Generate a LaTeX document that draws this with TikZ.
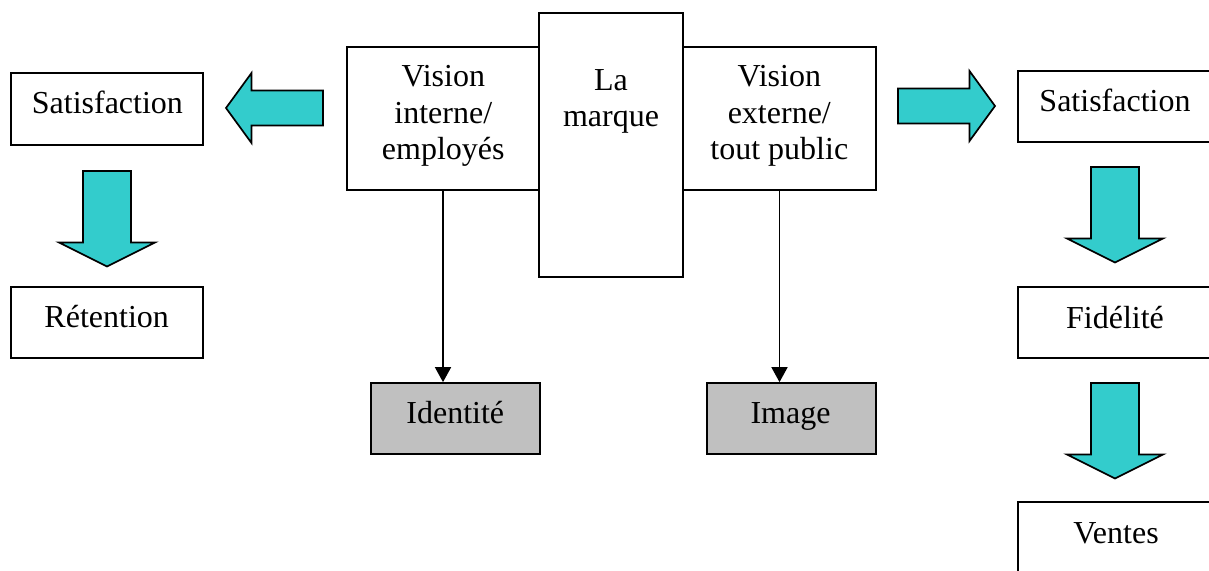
\documentclass[tikz,border=0pt]{standalone}
\usepackage{fontspec}
\setmainfont{Liberation Serif}
\usetikzlibrary{arrows.meta,fit,calc}
\definecolor{turq}{HTML}{33CCCC}
\definecolor{greybox}{HTML}{C0C0C0}
\begin{document}
\begin{tikzpicture}[x=0.5pt,y=-0.5pt,
  box/.style={draw, line width=0.85pt, fill=white, inner sep=0pt},
  greyb/.style={box, fill=greybox},
  lbl/.style={inner sep=0pt, anchor=base, font=\fontsize{16}{18.3}\selectfont},
  lines/.style={inner sep=0pt, anchor=north, align=center, font=\fontsize{16}{18.3}\selectfont},
  conn/.style={draw, line width=0.85pt, -{Triangle[length=7.5pt,width=8pt]}},
  blockfill/.style={draw, line width=0.85pt, fill=turq, line join=miter},
  pics/blockdown/.style={code={
    \path[blockfill] (-24,0) -- (24,0) -- (24,71.5) -- (48,71.5) -- (0,95.5)
      -- (-48,71.5) -- (-24,71.5) -- cycle;}},
  pics/blockright/.style={code={
    \path[blockfill] (0,-17.5) -- (71.5,-17.5) -- (71.5,-35) -- (97,0)
      -- (71.5,35) -- (71.5,17.5) -- (0,17.5) -- cycle;}}
]
\useasboundingbox (0,0) rectangle (1209,571);
\clip (0,0) rectangle (1209,571);

% central brand block
\node[box, fit={(347,47) (539,190)}] (interne) {};
\node[box, fit={(683,47) (876,190)}] (externe) {};
\node[box, fit={(539,13) (683,277)}] (marque) {};
\node[lines] (interneT) at (443.3,65.2) {Vision\\interne/\\employés};
\node[lines] (marqueT) at (611,68.8) {La\\marque};
\node[lines] (externeT) at (779.3,65.2) {Vision\\externe/\\tout public};

% identity and image
\node[greyb, fit={(371,383) (540,454)}] (identite) {};
\node[lbl] (identiteT) at (455.3,423) {Identité};
\node[greyb, fit={(707,383) (876,454)}] (image) {};
\node[lbl] (imageT) at (790.5,423.3) {Image};

\draw[conn] (interne.south) -- (interne.south |- identite.north);
\draw[conn] (externe.south) -- (externe.south |- image.north);

% internal side
\node[box, fit={(11,73) (203,145)}] (satL) {};
\node[lbl] (satLT) at (107.4,114) {Satisfaction};
\node[box, fit={(11,287) (203,358)}] (retention) {};
\node[lbl] (retentionT) at (106.7,327.5) {Rétention};

% external side
\node[box, fit={(1018,71) (1212,142)}] (satR) {};
\node[lbl] (satRT) at (1115,111.7) {Satisfaction};
\node[box, fit={(1018,287) (1212,358)}] (fidelite) {};
\node[lbl] (fideliteT) at (1115,328.3) {Fidélité};
\node[box, fit={(1018,502) (1212,574)}] (ventes) {};
\node[lbl] (ventesT) at (1116,543) {Ventes};

% block arrows
\pic[rotate=180] at (323,108) {blockright};
\pic at (898,106) {blockright};
\pic at (107,171) {blockdown};
\pic at (1115,167) {blockdown};
\pic at (1115,383) {blockdown};
\end{tikzpicture}
\end{document}
